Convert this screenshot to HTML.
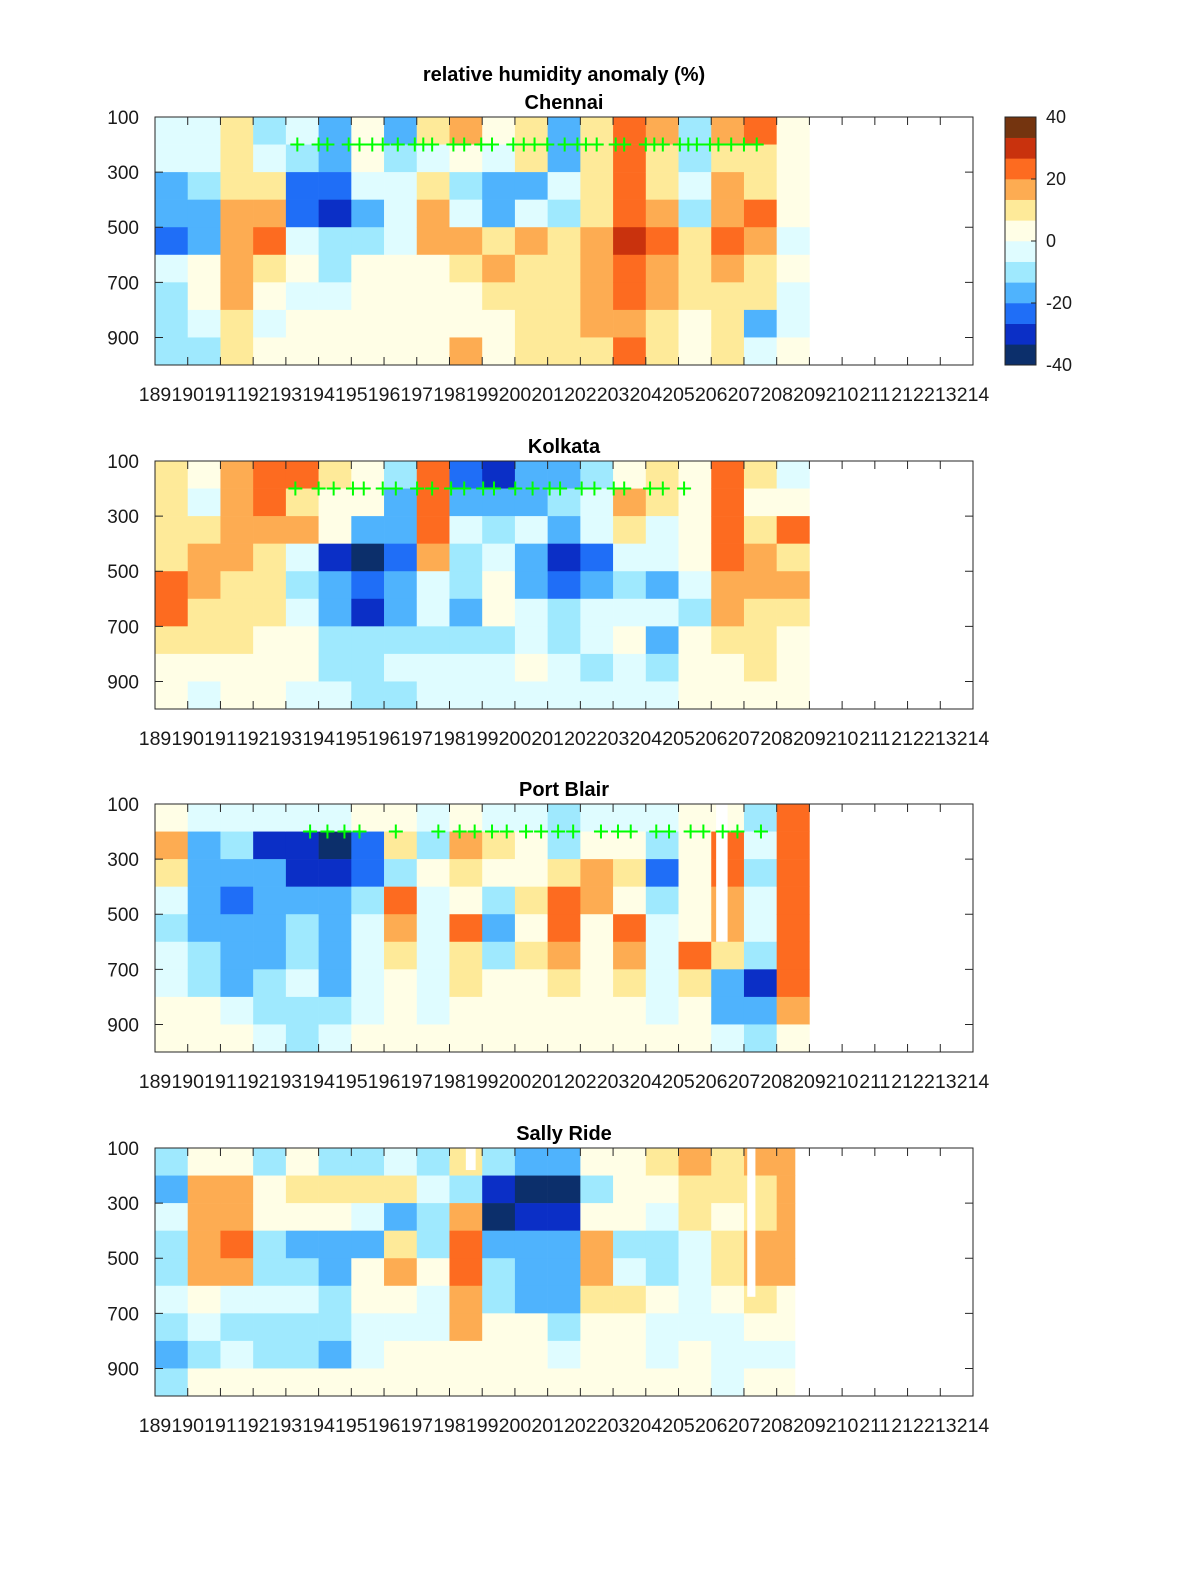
<!DOCTYPE html>
<html><head><meta charset="utf-8"><title>relative humidity anomaly</title>
<style>
html,body{margin:0;padding:0;background:#fff;}
svg text{font-family:"Liberation Sans",Arial,sans-serif;fill:#1a1a1a;}
</style></head>
<body>
<svg id="fig" width="1200" height="1575" viewBox="0 0 1200 1575" xmlns="http://www.w3.org/2000/svg">
<rect width="1200" height="1575" fill="#fff"/>
<text x="564" y="81" font-size="20" font-weight="bold" text-anchor="middle" style="fill:#000">relative humidity anomaly (%)</text>
<g id="panels"></g>
<g id="cbar"></g>
</svg>
<script>
const xTickLabels = ["189","190","191","192","193","194","195","196","197","198","199","200","201","202","203","204","205","206","207","208","209","210","211","212","213","214"];
const yTickLabels = [100,300,500,700,900];
const cbarTicks = [40,20,0,-20,-40];
const stationNames = ["Chennai","Kolkata","Port Blair","Sally Ride"];
const dataEnd = [209, 209, 209, 208.56];

const chennai = [
[-5,-3,-15,-20,-25,-5,-10,-8,-10],
[-5,-3,-10,-15,-15,0,0,-5,-10],
[12,12,8,15,15,14,14,8,8],
[-10,-5,8,15,20,8,5,-5,5],
[-5,-10,-25,-25,-5,0,-3,5,5],
[-20,-15,-25,-28,-10,-10,-5,0,0],
[0,5,-5,-20,-10,0,5,3,3],
[-20,-10,-5,-5,-5,0,0,3,5],
[8,-5,10,15,15,5,5,0,3],
[15,5,-10,-5,15,8,5,0,15],
[0,-5,-20,-20,12,15,8,5,5],
[8,8,-15,-5,15,12,8,10,8],
[-20,-20,-5,-10,10,8,10,10,8],
[10,8,10,10,15,15,15,15,10],
[25,20,25,25,30,25,22,18,22],
[14,10,8,15,20,15,14,10,10],
[-10,-10,-5,-10,8,10,8,5,3],
[15,10,15,15,20,15,8,8,10],
[20,10,10,20,15,10,8,-15,-5],
[0,5,5,5,-5,5,-5,-5,5]];
const kolkata = [
[10,10,10,8,20,22,8,3,3],
[5,-5,10,15,15,10,8,3,-3],
[15,15,15,15,12,10,8,5,3],
[22,20,18,12,10,8,5,3,0],
[20,10,15,-3,-10,-5,0,0,-5],
[10,5,5,-30,-15,-15,-10,-8,-5],
[5,5,-15,-35,-25,-30,-10,-10,-8],
[-10,-15,-20,-25,-20,-20,-8,-5,-10],
[20,20,25,15,-5,-5,-10,-5,-5],
[-25,-15,-5,-10,-10,-20,-10,-5,-5],
[-30,-20,-10,-5,5,0,-10,-5,-5],
[-20,-15,-5,-20,-15,-5,-5,0,-5],
[-15,-10,-20,-30,-25,-10,-10,-5,-3],
[-10,-5,-5,-25,-20,-5,-5,-8,-5],
[5,15,10,-5,-10,-5,0,-3,-5],
[10,10,-3,-5,-15,-5,-15,-10,-5],
[0,5,5,5,-5,-10,0,0,3],
[25,20,25,25,15,15,10,5,3],
[10,5,10,15,18,12,10,8,5],
[-5,5,20,10,15,10,5,5,5]];
const portBlair = [
[5,15,10,-5,-10,-5,-5,3,5],
[-5,-15,-15,-20,-15,-10,-10,0,5],
[-5,-10,-15,-25,-20,-20,-15,-5,3],
[-5,-30,-20,-15,-15,-15,-10,-10,-3],
[-5,-30,-30,-20,-10,-10,-5,-10,-10],
[-3,-35,-30,-15,-15,-20,-20,-10,-5],
[5,-25,-25,-8,-5,-5,-3,-5,0],
[0,10,-10,20,15,8,5,3,5],
[-5,-10,0,-5,-3,-3,-5,-5,3],
[0,15,10,5,20,10,10,5,5],
[-5,10,5,-10,-20,-10,5,5,3],
[-5,5,5,10,5,10,5,3,0],
[-10,-10,10,20,20,15,10,5,5],
[-5,5,15,15,5,5,5,5,5],
[-5,5,10,5,20,15,10,5,0],
[-5,-10,-25,-10,-5,-5,-5,-5,3],
[0,5,5,5,5,20,8,5,0],
[5,20,25,15,15,10,-20,-20,-5],
[-10,-5,-10,-5,-5,-10,-30,-20,-10],
[20,25,20,20,20,20,20,15,5]];
const sallyRide = [
[-10,-15,-5,-10,-10,-5,-10,-15,-10],
[5,15,15,15,15,0,-5,-10,0],
[5,15,15,20,15,-5,-10,-5,0],
[-10,5,0,-10,-10,-5,-10,-10,0],
[0,10,5,-20,-10,-5,-10,-10,0],
[-10,10,5,-20,-15,-10,-10,-15,0],
[-10,10,-5,-15,5,5,-5,-5,0],
[-5,10,-15,10,15,5,-5,5,5],
[-10,-5,-10,-10,5,-5,-5,5,0],
[10,-10,15,20,20,15,15,5,5],
[-10,-30,-35,-20,-10,-10,0,5,5],
[-15,-35,-30,-20,-20,-15,5,3,0],
[-20,-35,-30,-20,-15,-15,-10,-5,0],
[5,-10,5,15,15,10,5,5,3],
[5,5,5,-10,-5,10,5,3,0],
[10,5,-5,-10,-10,5,-5,-5,0],
[15,10,10,-5,-5,-5,-5,3,3],
[10,10,5,10,10,5,-5,-5,-3],
[15,10,10,15,15,10,5,-5,0],
[15,15,15,15,15,5,5,-5,0]];
const panelValues = [chennai, kolkata, portBlair, sallyRide];

const crossesChennai = [193.35,194.0,194.27,194.92,195.25,195.64,195.96,196.42,196.94,197.2,197.47,198.12,198.45,198.97,199.3,199.95,200.27,200.6,200.99,201.52,201.91,202.17,202.5,203.08,203.34,204.0,204.26,204.52,205.04,205.3,205.56,205.96,206.22,206.61,207.0,207.39];
const crossesKolkata = [193.29,194.0,194.46,195.05,195.38,195.96,196.36,197.01,197.47,198.05,198.45,199.03,199.36,200.01,200.54,201.06,201.38,202.04,202.43,203.02,203.34,204.13,204.52,205.17];
const crossesPortBlair = [193.74,194.27,194.79,195.25,196.36,197.66,198.31,198.77,199.3,199.75,200.34,200.8,201.32,201.78,202.63,203.15,203.54,204.32,204.71,205.37,205.76,206.35,206.8,207.52];
const panelCrosses = [crossesChennai, crossesKolkata, crossesPortBlair, []];
const crossPressure = 200;

// gaps: [startTime, endTime, topPressure, bottomPressure]
const gapsPortBlair = [[206.15,206.5,100,600]];
const gapsSallyRide = [[198.5,198.8,100,180],[207.1,207.35,100,640]];
const panelGaps = [[], [], gapsPortBlair, gapsSallyRide];

const NS = "http://www.w3.org/2000/svg";
const X0 = 155, X1 = 973, T0 = 189, T1 = 214;
const panelTops = [117, 461, 804, 1148];
const PH = 248, P0 = 100, P1 = 1000;
const bandColors = ["#0c2f6b","#0b2fc6","#1f6ef7","#4fb3fd","#9fe9fe","#dffcff","#fffee6","#feea99","#fdac52","#fd6b20","#c9320d","#74340f"];
function colorOf(v){ let i = Math.floor((v + 40) / (80/12)); if(i<0)i=0; if(i>11)i=11; return bandColors[i]; }
function xs(t){ return X0 + (t - T0) / (T1 - T0) * (X1 - X0); }
function mk(tag, attrs, parent){ const e = document.createElementNS(NS, tag); for(const k in attrs) e.setAttribute(k, attrs[k]); parent.appendChild(e); return e; }

const panels = document.getElementById('panels');
panelTops.forEach((top, pi) => {
  const ys = p => top + (p - P0) / (P1 - P0) * PH;
  const g = mk('g', {}, panels);
  
  
  const vals = panelValues[pi];
  const rowP = [100,200,300,400,500,600,700,800,900,1000];
  vals.forEach((col, ci) => {
    const t0 = T0 + ci, t1 = Math.min(T0 + ci + 1, dataEnd[pi]);
    if (t1 <= t0) return;
    col.forEach((v, ri) => {
      const r = mk('rect', {x: xs(t0), y: ys(rowP[ri]), width: xs(t1) - xs(t0) + 0.3, height: ys(rowP[ri+1]) - ys(rowP[ri]) + 0.3, fill: colorOf(v)}, g);
      
      
    });
  });
  panelGaps[pi].forEach(gp => {
    const r = mk('rect', {x: xs(gp[0]), y: ys(gp[2]), width: xs(gp[1]) - xs(gp[0]), height: ys(gp[3]) - ys(gp[2]), fill: '#fff'}, g);
    
    
  });
  panelCrosses[pi].forEach(t => {
    const cx = xs(t), cy = ys(crossPressure);
    const c = mk('path', {d: `M${cx-7},${cy}H${cx+7}M${cx},${cy-7}V${cy+7}`, stroke: '#00ff00', 'stroke-width': 2, fill: 'none'}, g);
    
    
  });
  const box = mk('rect', {x: X0, y: top, width: X1 - X0, height: PH, fill: 'none', stroke: '#262626', 'stroke-width': 1}, g);
  
  
  const ax = mk('g', {}, g);
  
  
  xTickLabels.forEach((lab, i) => {
    const x = xs(T0 + i);
    mk('path', {d: `M${x},${top}v8M${x},${top+PH}v-8`, stroke: '#262626', 'stroke-width': 1}, ax);
    const tx = mk('text', {x: x, y: top + PH + 36, 'font-size': 19.5, 'text-anchor': 'middle'}, ax);
    tx.textContent = lab;
    
    
  });
  const ay = mk('g', {}, g);
  
  
  yTickLabels.forEach(p => {
    const y = ys(p);
    mk('path', {d: `M${X0},${y}h8M${X1},${y}h-8`, stroke: '#262626', 'stroke-width': 1}, ay);
    const tx = mk('text', {x: 139, y: y + 7, 'font-size': 19, 'text-anchor': 'end'}, ay);
    tx.textContent = p;
    
    
  });
  const st = mk('text', {x: 564, y: top - 8, 'font-size': 20, 'font-weight': 'bold', 'text-anchor': 'middle', style: 'fill:#000'}, g);
  st.textContent = stationNames[pi];
  
  
});

const cb = document.getElementById('cbar');
const CBX = 1005, CBW = 31, CBT = 117, CBH = 248;
bandColors.forEach((c, i) => {
  const h = CBH / 12;
  const r = mk('rect', {x: CBX, y: CBT + CBH - (i + 1) * h, width: CBW, height: h + 0.3, fill: c}, cb);
  
  
});
mk('rect', {x: CBX, y: CBT, width: CBW, height: CBH, fill: 'none', stroke: '#262626', 'stroke-width': 1}, cb);
cbarTicks.forEach(v => {
  const y = CBT + (40 - v) / 80 * CBH;
  mk('path', {d: `M${CBX+CBW},${y}h-5`, stroke: '#262626', 'stroke-width': 1}, cb);
  const tx = mk('text', {x: 1046, y: y + 6, 'font-size': 18}, cb);
  tx.textContent = v;
  
  
});
</script>
</body></html>
